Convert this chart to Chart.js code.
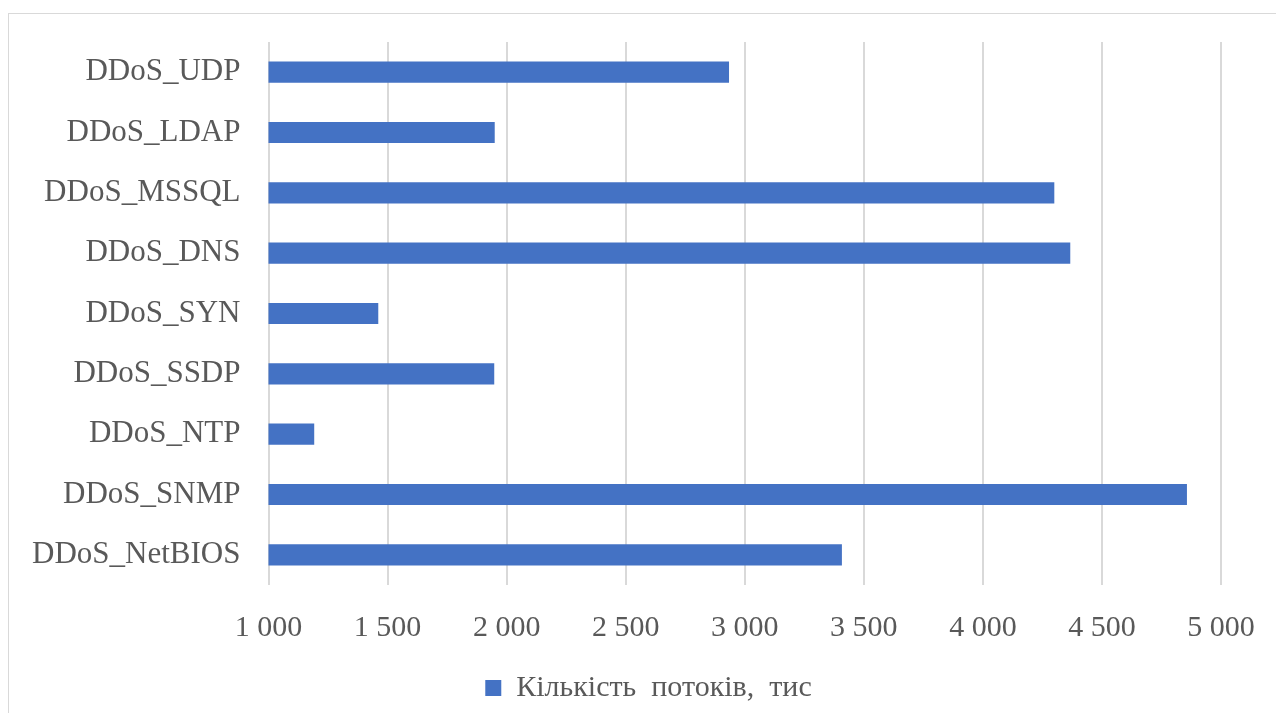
<!DOCTYPE html>
<html>
<head>
<meta charset="utf-8">
<script src="https://cdn.jsdelivr.net/npm/chart.js@4/dist/chart.umd.min.js"></script>
<style>
    html, body { margin: 0; padding: 0; background: #fff; overflow: hidden; }
    #frame { position: absolute; left: 8px; top: 13px; width: 1300px; height: 720px; border: 1px solid #d9d9d9; }
    #wrap { position: absolute; left: 0; top: 0; width: 1276px; height: 713px; }
</style>
</head>
<body>
<div id="frame"></div>
<div id="wrap"><canvas id="chart" width="1276" height="713"></canvas></div>
<script>
let categories = ['DDoS_UDP', 'DDoS_LDAP', 'DDoS_MSSQL', 'DDoS_DNS', 'DDoS_SYN', 'DDoS_SSDP', 'DDoS_NTP', 'DDoS_SNMP', 'DDoS_NetBIOS'];
let flows = [2934, 1950, 4300, 4367, 1461, 1948, 1192, 4857, 3408];
let seriesName = 'Кількість  потоків,  тис';
let axisMin = 1000;
let axisMax = 5000;
let axisStep = 500;

let myChart = null;

window.onload = function () {
    initChart();
};

function formatThousands(v) {
    let s = String(v);
    if (s.length > 3) {
        s = s.slice(0, s.length - 3) + ' ' + s.slice(s.length - 3);
    }
    return s;
}

// moves the legend a bit right, like in the original picture
const legendShift = {
    id: 'legendShift',
    afterLayout: function (chart) {
        chart.legend.left += 38;
        chart.legend.right += 38;
    }
};

function initChart() {
    let ctx = document.getElementById('chart').getContext('2d');
    let serif = '"Liberation Serif", "Times New Roman", serif';
    myChart = new Chart(ctx, {
        type: 'bar',
        data: {
            labels: categories,
            datasets: [{
                label: seriesName,
                data: flows,
                backgroundColor: '#4472C4',
                borderWidth: 0,
                barPercentage: 0.7,
                categoryPercentage: 0.5
            }]
        },
        options: {
            indexAxis: 'y',
            responsive: false,
            animation: false,
            layout: {
                padding: { top: 42, right: 55, left: 0, bottom: 0 }
            },
            scales: {
                x: {
                    min: axisMin,
                    max: axisMax,
                    afterFit: function (scale) { scale.height = 78; },
                    ticks: {
                        stepSize: axisStep,
                        padding: 10,
                        color: '#595959',
                        font: { family: serif, size: 30, lineHeight: 2.2 },
                        callback: function (value) { return formatThousands(value); }
                    },
                    grid: { color: '#d9d9d9', lineWidth: 2, drawTicks: false },
                    border: { display: false }
                },
                y: {
                    afterFit: function (scale) { scale.width = 268.5; },
                    ticks: {
                        padding: 28,
                        color: '#595959',
                        font: { family: serif, size: 31, lineHeight: 0.3 }
                    },
                    grid: { display: false, drawTicks: false },
                    border: { display: false }
                }
            },
            plugins: {
                legend: {
                    position: 'bottom',
                    labels: {
                        boxWidth: 16,
                        boxHeight: 16,
                        padding: 10,
                        color: '#595959',
                        font: { family: serif, size: 30 }
                    }
                },
                tooltip: { enabled: false }
            }
        },
        plugins: [legendShift]
    });
}
</script>
</body>
</html>
